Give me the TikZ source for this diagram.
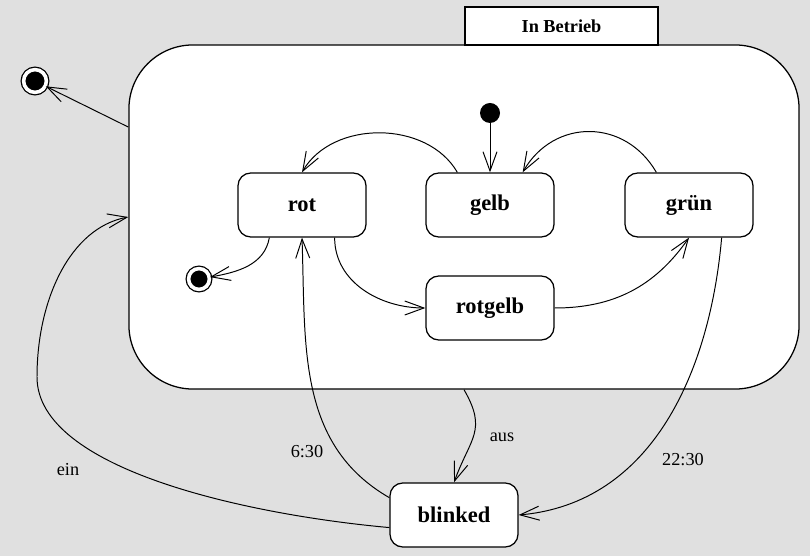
\documentclass[tikz,border=0pt]{standalone}
\usepackage{fontspec}
\setmainfont{Liberation Serif}
\usetikzlibrary{arrows.meta}
\definecolor{bggray}{RGB}{224,224,224}

\begin{document}
\begin{tikzpicture}[
  x=0.025cm,y=-0.025cm,
  zustand/.style={draw,fill=white,rounded corners=0.32cm,line width=0.9pt,
    minimum width=3.2cm,minimum height=1.6cm,inner sep=0pt,
    font=\fontsize{16}{19}\selectfont\bfseries},
  initial/.style={circle,fill=black,inner sep=0pt,minimum size=0.5cm},
  final/.style={circle,fill=black,draw=black,double=white,
    double distance=0.09cm,line width=0.9pt,inner sep=0pt},
  trans/.style={line width=0.7pt,-{Straight Barb[length=0.48cm,width=0.35cm]}},
  lbl/.style={font=\fontsize{13}{15}\selectfont}
]
\useasboundingbox (0,0) rectangle (810,556);
\fill[bggray] (0,0) rectangle (810,556);
\node[draw,fill=white,rounded corners=1.6cm,line width=0.9pt,
  minimum width=16.75cm,minimum height=8.6cm] (betrieb) at (464,217) {};
\node[draw,fill=white,line width=1.8pt,minimum width=4.825cm,minimum height=0.95cm,
  inner sep=0pt,font=\fontsize{13}{15}\selectfont\bfseries] (inbetrieb) at (561.5,26) {In Betrieb};
\foreach \n/\t/\x in {rot/rot/302,gelb/gelb/490,gruen/grün/689}{
  \node[zustand] (\n) at (\x,205) {\t};
}
\node[zustand] (rotgelb) at (490,308) {rotgelb};
\node[zustand] (blinked) at (454,515) {blinked};
\node[initial] (start) at (490,113) {};
\node[final,minimum size=0.52cm] (fin) at (199,279) {};
\node[final,minimum size=0.57cm] (finout) at (35,81) {};

\draw[trans] (start) -- (gelb.north);
\draw[trans] (gelb.135) to[out=120,in=60] (rot.north);
\draw[trans] (gruen.135) to[out=120,in=60,looseness=1.2] (gelb.45);
\draw[trans] (rot.-45) to[out=-90,in=180] (rotgelb.west);
\draw[trans] (rotgelb.east) to[out=0,in=-125] (gruen.south);
\draw[trans] (rot.-135) to[out=-100,in=10] (fin);
\draw[trans] (betrieb.165.6) -- (finout);
\draw[trans] (blinked.191.5) .. controls (250,515) and (37,470) .. (37,377)
  .. controls (37,300) and (70,228) .. (betrieb.west);
\draw[trans] (blinked.165) to[out=150,in=-88] (rot.south);
\draw[trans] (betrieb.south) to[out=-60,in=70,looseness=1.3] (blinked.north);
\draw[trans] (gruen.-45) to[out=-95,in=5] (blinked.east);

\node[lbl] (l630) at (307,452) {6:30};
\node[lbl] (laus) at (502,437) {aus};
\node[lbl] (l2230) at (683,460) {22:30};
\node[lbl] (lein) at (68,470) {ein};
\end{tikzpicture}
\end{document}
